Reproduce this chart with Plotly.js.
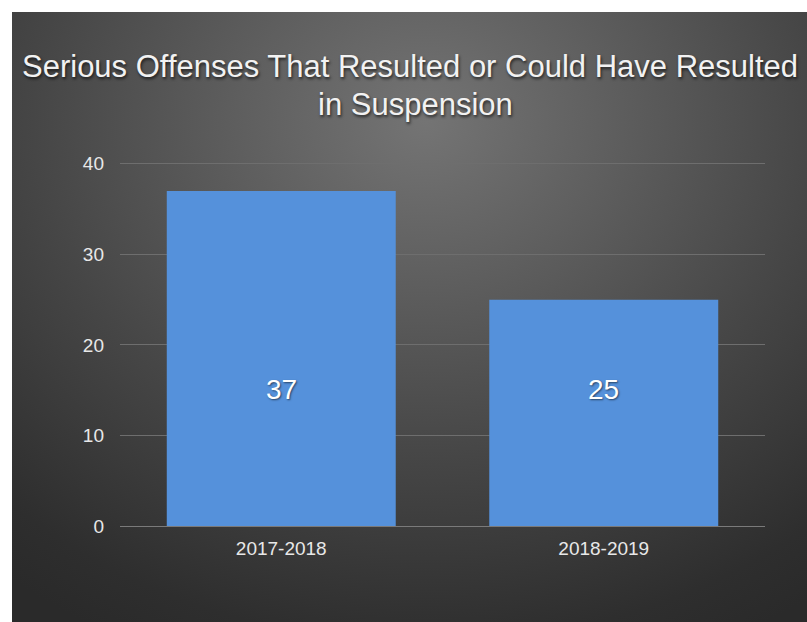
<!DOCTYPE html>
<html>
<head>
<meta charset="utf-8">
<script src="https://cdn.plot.ly/plotly-3.0.1.min.js"></script>
<style>
html,body{margin:0;padding:0;background:#ffffff;}
#wrap{position:relative;width:807px;height:622px;overflow:hidden;}
#bg{position:absolute;left:12px;top:12px;width:795px;height:610px;
 background:radial-gradient(ellipse 85% 95% at 52% 18%, #747474 0%, #5e5e5e 28%, #464646 58%, #2e2e2e 90%, #2a2a2a 100%);}
#chart{position:absolute;left:0;top:0;width:807px;height:622px;}
</style>
</head>
<body>
<div id="wrap"><div id="bg"></div><div id="chart"></div></div>
<script>
const categories = ["2017-2018", "2018-2019"];
const values = [37, 25];
const yTicks = [0, 10, 20, 30, 40];
const titleLines = ["Serious Offenses That Resulted or Could Have Resulted", "in Suspension"];

const FONT = "Liberation Sans, Arial, Helvetica, sans-serif";
const labelY = 15.1; // data labels sit at the same height in both bars

const trace = {
  type: "bar",
  x: categories,
  y: values,
  marker: {color: "#5591db", line: {width: 0}},
  hoverinfo: "none"
};

const annotations = [];
categories.forEach((c, i) => {
  annotations.push({
    x: c, y: labelY, xref: "x", yref: "y",
    text: String(values[i]), showarrow: false,
    xanchor: "center", yanchor: "middle",
    font: {family: FONT, size: 28, color: "#ffffff", shadow: "1px 1px 2px rgba(0,0,0,0.55)"}
  });
});
const titleXs = [0.4496, 0.4589];
const titleYs = [1.2637, 1.1593];
titleLines.forEach((t, i) => {
  annotations.push({
    x: titleXs[i], xref: "paper", xanchor: "center",
    y: titleYs[i], yref: "paper", yanchor: "middle",
    text: t, showarrow: false,
    font: {family: FONT, size: 31, color: "#f2f2f2", shadow: "1px 2px 3px rgba(0,0,0,0.65)"}
  });
});

const layout = {
  width: 807, height: 622,
  margin: {l: 120, r: 42, t: 162, b: 96},
  paper_bgcolor: "rgba(0,0,0,0)",
  plot_bgcolor: "rgba(0,0,0,0)",
  bargap: 0.29,
  showlegend: false,
  annotations: annotations,
  xaxis: {
    type: "category",
    showgrid: false, zeroline: false, showline: false,
    ticks: "", tickfont: {family: FONT, size: 19, color: "#e8e8e8"},
    ticklabelstandoff: 9
  },
  yaxis: {
    range: [0, 40.2],
    tickvals: yTicks,
    ticktext: yTicks.map(String),
    showgrid: true, gridcolor: "#6e6e6e", gridwidth: 1,
    zeroline: true, zerolinecolor: "#7a7a7a", zerolinewidth: 1,
    showline: false, ticks: "",
    tickfont: {family: FONT, size: 19, color: "#e8e8e8"},
    ticklabelstandoff: 15
  }
};

Plotly.newPlot("chart", [trace], layout, {displayModeBar: false, staticPlot: true});
</script>
</body>
</html>
